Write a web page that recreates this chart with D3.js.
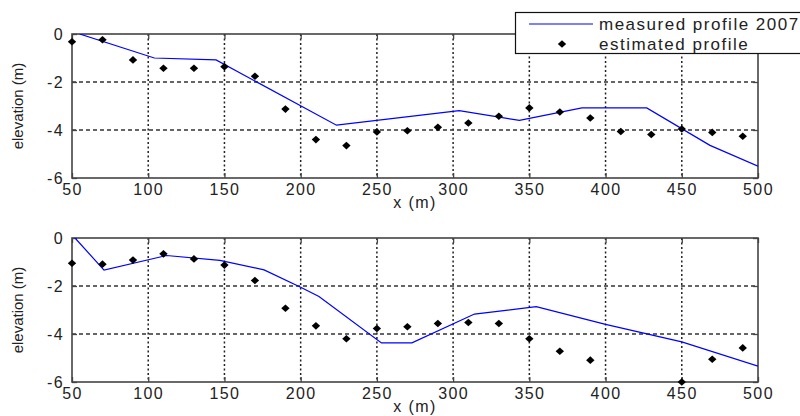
<!DOCTYPE html>
<html>
<head>
<meta charset="utf-8">
<script src="https://cdn.jsdelivr.net/npm/d3@7"></script>
<style>
  body { margin: 0; background: #fff; }
  svg text { font-family: "Liberation Sans", Arial, sans-serif; fill: #222; }
</style>
</head>
<body>
<div id="chart"></div>
<script>
// ticks
const xTicks = [50, 100, 150, 200, 250, 300, 350, 400, 450, 500];
const yTicks = [0, -2, -4, -6];

// estimated profile is sampled every 20 m
const estX = [50, 70, 90, 110, 130, 150, 170, 190, 210, 230, 250, 270, 290, 310, 330, 350, 370, 390, 410, 430, 450, 470, 490];

// top panel
const topMeasX = [55, 104, 144.5, 223.5, 304, 343.5, 384.5, 427, 468.5, 500];
const topMeasY = [0, -1.0, -1.08, -3.8, -3.19, -3.6, -3.08, -3.08, -4.64, -5.51];
const topEstY = [-0.32, -0.24, -1.08, -1.43, -1.43, -1.36, -1.76, -3.13, -4.40, -4.65, -4.08, -4.03, -3.89, -3.71, -3.43, -3.08, -3.25, -3.5, -4.06, -4.19, -3.96, -4.10, -4.26];

// bottom panel (two estimates fall below the axis and are not shown)
const botMeasX = [52, 71, 112, 147, 176, 200, 212, 253, 273, 314, 354.5, 400, 450, 500];
const botMeasY = [0, -1.34, -0.73, -0.93, -1.33, -2.05, -2.44, -4.37, -4.37, -3.17, -2.86, -3.6, -4.33, -5.34];
const botEstY = [-1.05, -1.09, -0.92, -0.66, -0.87, -1.13, -1.77, -2.93, -3.66, -4.2, -3.77, -3.70, -3.56, -3.52, -3.56, -4.2, -4.72, -5.09, null, null, -6.0, -5.05, -4.58];

const legendLabels = ['measured profile 2007', 'estimated profile'];

const width = 800, height = 416;
const left = 72, right = 758;
const lineColor = '#0000ff';
const fontSize = 16;
const spacing = '1.4px';

const svg = d3.select('#chart').append('svg')
    .attr('width', width)
    .attr('height', height);

const x = d3.scaleLinear().domain([50, 500]).range([left, right]);

const diamond = 'M0,-3.8L4.2,0L0,3.8L-4.2,0Z';

function drawPanel(top, bottom, measX, measY, estY, id) {
    const y = d3.scaleLinear().domain([-6, 0]).range([bottom, top]);
    const g = svg.append('g');

    g.append('clipPath').attr('id', id)
        .append('rect')
        .attr('x', left).attr('y', top)
        .attr('width', right - left).attr('height', bottom - top);

    // grid
    g.selectAll('.vgrid')
        .data(xTicks.slice(1, -1))
        .enter().append('line')
        .attr('x1', d => x(d)).attr('x2', d => x(d))
        .attr('y1', top).attr('y2', bottom)
        .attr('stroke', '#222').attr('stroke-width', 1.5)
        .attr('stroke-dasharray', '2,2.5');

    g.selectAll('.hgrid')
        .data(yTicks.slice(1, -1))
        .enter().append('line')
        .attr('x1', left).attr('x2', right)
        .attr('y1', d => y(d)).attr('y2', d => y(d))
        .attr('stroke', '#333').attr('stroke-width', 1.3)
        .attr('stroke-dasharray', '4,3');

    // axes with inward ticks
    g.append('g')
        .attr('transform', `translate(0,${bottom})`)
        .call(d3.axisBottom(x).tickValues(xTicks).tickSize(-5).tickPadding(6));
    g.append('g')
        .attr('transform', `translate(0,${top})`)
        .call(d3.axisTop(x).tickValues(xTicks).tickSize(-5).tickFormat(''));
    const leftAxis = g.append('g')
        .attr('transform', `translate(${left},0)`)
        .call(d3.axisLeft(y).tickValues(yTicks).tickSize(-5).tickPadding(8));
    g.append('g')
        .attr('transform', `translate(${right},0)`)
        .call(d3.axisRight(y).tickValues(yTicks).tickSize(-5).tickFormat(''));

    g.selectAll('.domain').remove();
    g.selectAll('.tick line').attr('stroke', '#444').attr('stroke-width', 1.3);
    g.selectAll('.tick text')
        .attr('font-size', fontSize)
        .style('letter-spacing', spacing)
        .attr('fill', '#222');
    leftAxis.selectAll('.tick text').text(d => d === 0 ? '0' : String(d).replace('−', '-'));

    g.append('rect')
        .attr('x', left).attr('y', top)
        .attr('width', right - left).attr('height', bottom - top)
        .attr('fill', 'none')
        .attr('stroke', '#444').attr('stroke-width', 1.6);

    // measured line
    const pts = measX.map((d, i) => [d, measY[i]]);
    g.append('path')
        .datum(pts)
        .attr('clip-path', `url(#${id})`)
        .attr('fill', 'none')
        .attr('stroke', lineColor)
        .attr('stroke-width', 1.2)
        .attr('d', d3.line().x(d => x(d[0])).y(d => y(d[1])));

    // estimated points
    const est = estX.map((d, i) => [d, estY[i]]).filter(d => d[1] !== null);
    g.selectAll('.est')
        .data(est)
        .enter().append('path')
        .attr('d', diamond)
        .attr('transform', d => `translate(${x(d[0])},${y(d[1])})`)
        .attr('fill', '#000');

    // labels
    g.append('text')
        .attr('x', (left + right) / 2)
        .attr('y', bottom + 30)
        .attr('text-anchor', 'middle')
        .attr('font-size', fontSize)
        .style('letter-spacing', spacing)
        .text('x (m)');

    g.append('text')
        .attr('transform', `translate(23,${(top + bottom) / 2}) rotate(-90)`)
        .attr('text-anchor', 'middle')
        .attr('font-size', fontSize - 1)
        .text('elevation (m)');
}

drawPanel(34, 178, topMeasX, topMeasY, topEstY, 'clipTop');
drawPanel(238, 382, botMeasX, botMeasY, botEstY, 'clipBot');

// legend
const lg = svg.append('g');
lg.append('rect')
    .attr('x', 515.5).attr('y', 12.5)
    .attr('width', 300).attr('height', 41)
    .attr('fill', '#fff')
    .attr('stroke', '#111').attr('stroke-width', 1.2);

lg.append('line')
    .attr('x1', 529).attr('x2', 593)
    .attr('y1', 24).attr('y2', 24)
    .attr('stroke', lineColor).attr('stroke-width', 1.2);

lg.append('path')
    .attr('d', diamond)
    .attr('transform', 'translate(562,44)')
    .attr('fill', '#000');

lg.selectAll('.ltext')
    .data(legendLabels)
    .enter().append('text')
    .attr('x', 599)
    .attr('y', (d, i) => 24 + i * 20)
    .attr('dy', '0.35em')
    .attr('font-size', 17)
    .style('letter-spacing', '1.5px')
    .text(d => d);
</script>
</body>
</html>
